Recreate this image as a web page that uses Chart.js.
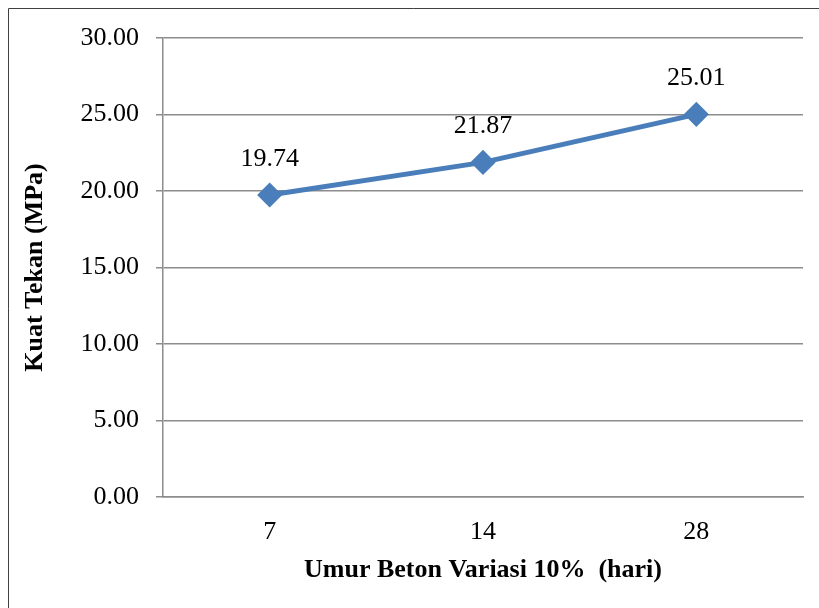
<!DOCTYPE html>
<html><head><meta charset="utf-8">
<script src="https://cdn.jsdelivr.net/npm/chart.js@4.4.1/dist/chart.umd.min.js"></script>
<style>html,body{margin:0;padding:0;background:#fff}#wrap{width:819px;height:608px;position:relative}</style>
</head><body><div id="wrap"><canvas id="c" width="819" height="608"></canvas></div>
<script>
const categories = ['7', '14', '28'];
const strengthValues = [19.74, 21.87, 25.01];
const yTicks = [0, 5, 10, 15, 20, 25, 30];

const frame = {
  id: 'frame',
  afterDraw(chart) {
    const ctx = chart.ctx;
    ctx.save();
    ctx.strokeStyle = '#404040';
    ctx.lineWidth = 1;
    ctx.beginPath();
    ctx.moveTo(8.5, 608); ctx.lineTo(8.5, 8.5); ctx.lineTo(819, 8.5);
    ctx.stroke();
    ctx.restore();
  }
};
const labels = {
  id: 'labels',
  afterDatasetsDraw(chart) {
    const ctx = chart.ctx;
    const meta = chart.getDatasetMeta(0);
    ctx.save();
    ctx.font = '26px "Liberation Serif", "Times New Roman", serif';
    ctx.fillStyle = '#000';
    ctx.textAlign = 'center';
    ctx.textBaseline = 'middle';
    meta.data.forEach((pt, i) => {
      ctx.fillText(strengthValues[i].toFixed(2), pt.x, pt.y - 36);
    });
    ctx.restore();
  }
};

new Chart(document.getElementById('c'), {
  type: 'line',
  data: {
    labels: categories,
    datasets: [{
      data: strengthValues,
      borderColor: '#4a7ebb',
      backgroundColor: '#4a7ebb',
      borderWidth: 5,
      pointStyle: 'rectRot',
      pointRadius: 9,
      pointHoverRadius: 9,
      tension: 0
    }]
  },
  options: {
    responsive: false,
    animation: false,
    events: [],
    layout: { padding: { top: 38, right: 16, left: 0, bottom: 0 } },
    plugins: { legend: { display: false }, tooltip: { enabled: false } },
    scales: {
      x: {
        type: 'category',
        offset: true,
        grid: { display: false, drawTicks: false },
        border: { display: true, color: '#8c8c8c', width: 1.5 },
        ticks: { color: '#000', padding: 20, font: { family: '"Liberation Serif", "Times New Roman", serif', size: 26 } },
        title: { display: true, text: 'Umur Beton Variasi 10%  (hari)', color: '#000', padding: { top: 0, bottom: 22 },
          font: { family: '"Liberation Serif", "Times New Roman", serif', size: 26, weight: 'bold' } },
        afterFit(s) { s.height = 111; }
      },
      y: {
        min: 0, max: 30,
        afterBuildTicks(s) { s.ticks = yTicks.map(v => ({ value: v })); },
        grid: { color: '#8c8c8c', lineWidth: 1.5, tickLength: 7, drawTicks: true },
        border: { display: true, color: '#8c8c8c', width: 1.5 },
        ticks: { color: '#000', padding: 17, callback: v => Number(v).toFixed(2),
          font: { family: '"Liberation Serif", "Times New Roman", serif', size: 26 } },
        title: { display: true, text: 'Kuat Tekan (MPa)', color: '#000', padding: { top: 20, bottom: 0 },
          font: { family: '"Liberation Serif", "Times New Roman", serif', size: 26, weight: 'bold' } },
        afterFit(s) { s.width = 163; }
      }
    }
  },
  plugins: [frame, labels]
});
</script></body></html>
